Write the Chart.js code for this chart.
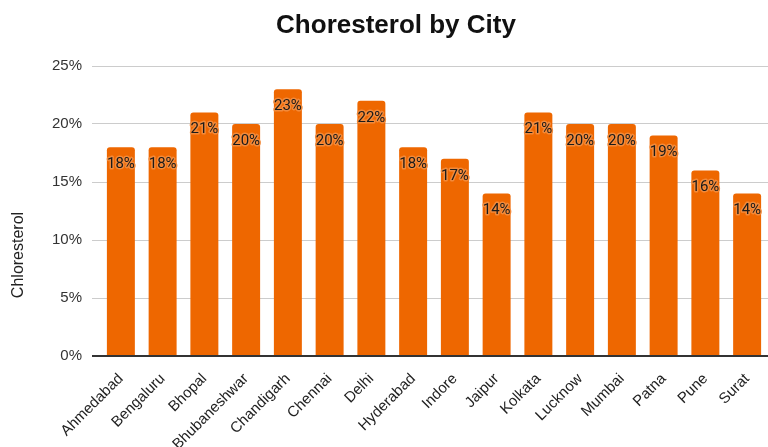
<!DOCTYPE html>
<html>
<head>
<meta charset="utf-8">
<script src="https://cdn.jsdelivr.net/npm/chart.js@4/dist/chart.umd.min.js"></script>
<style>
  html, body { margin: 0; padding: 0; background: #fff; }
  #wrap { width: 768px; height: 447px; position: relative; }
</style>
</head>
<body>
<div id="wrap"><canvas id="chart"></canvas></div>
<script>
const cities = ["Ahmedabad", "Bengaluru", "Bhopal", "Bhubaneshwar", "Chandigarh", "Chennai", "Delhi",
  "Hyderabad", "Indore", "Jaipur", "Kolkata", "Lucknow", "Mumbai", "Patna", "Pune", "Surat"];
const cholesterol = [18, 18, 21, 20, 23, 20, 22, 18, 17, 14, 21, 20, 20, 19, 16, 14];
const yTicks = [0, 5, 10, 15, 20, 25];

const titleText = "Choresterol by City";
const yTitleText = "Chloresterol";
const barColor = "#ee6700";
const fontFamily = "'Liberation Sans', Arial, sans-serif";

// title and y-axis title drawn by hand so they sit where we want them
const headings = {
  id: "headings",
  afterDraw(chart) {
    const ctx = chart.ctx;
    ctx.save();
    ctx.fillStyle = "#111";
    ctx.textAlign = "center";
    ctx.textBaseline = "middle";
    ctx.font = "bold 26px " + fontFamily;
    ctx.fillText(titleText, 396, 26);
    ctx.translate(19, 255);
    ctx.rotate(-Math.PI / 2);
    ctx.font = "16px " + fontFamily;
    ctx.fillStyle = "#222";
    ctx.fillText(yTitleText, 0, 0);
    ctx.restore();
  }
};

// value labels inside the top of each bar, with an orange halo
const barLabels = {
  id: "barLabels",
  afterDatasetsDraw(chart) {
    const ctx = chart.ctx;
    const meta = chart.getDatasetMeta(0);
    ctx.save();
    ctx.font = "15px Roboto, " + fontFamily;
    ctx.textAlign = "center";
    ctx.textBaseline = "middle";
    ctx.lineJoin = "round";
    meta.data.forEach((bar, i) => {
      const label = cholesterol[i] + "%";
      const y = bar.y + 17;
      ctx.strokeStyle = "#f28a3a";
      ctx.lineWidth = 3;
      ctx.strokeText(label, bar.x, y);
      ctx.fillStyle = "#1a1a1a";
      ctx.fillText(label, bar.x, y);
    });
    ctx.restore();
  }
};

new Chart(document.getElementById("chart"), {
  type: "bar",
  data: {
    labels: cities,
    datasets: [{
      data: cholesterol,
      backgroundColor: barColor,
      borderRadius: { topLeft: 3, topRight: 3 },
      borderSkipped: "bottom",
      categoryPercentage: 1,
      barPercentage: 0.67
    }]
  },
  options: {
    responsive: true,
    maintainAspectRatio: false,
    animation: false,
    layout: { padding: { top: 66, left: 0, right: 0, bottom: 0 } },
    plugins: {
      legend: { display: false },
      title: { display: false },
      tooltip: { enabled: false }
    },
    scales: {
      x: {
        grid: { display: false },
        border: { display: false },
        afterFit(scale) { scale.height = 91; },
        ticks: {
          autoSkip: false,
          maxRotation: 45,
          minRotation: 45,
          padding: 6,
          color: "#222",
          font: { family: fontFamily, size: 15 }
        }
      },
      y: {
        min: 0,
        max: 25,
        afterFit(scale) { scale.width = 100; },
        afterBuildTicks(scale) { scale.ticks = yTicks.map(v => ({ value: v })); },
        border: { display: false },
        grid: {
          tickLength: 8,
          color: ctx => ctx.tick && ctx.tick.value === 0 ? "#333" : "#cccccc",
          lineWidth: ctx => ctx.tick && ctx.tick.value === 0 ? 2 : 1
        },
        ticks: {
          padding: 10,
          color: "#333",
          font: { family: fontFamily, size: 15 },
          callback: v => v + "%"
        }
      }
    }
  },
  plugins: [headings, barLabels]
});
</script>
</body>
</html>
